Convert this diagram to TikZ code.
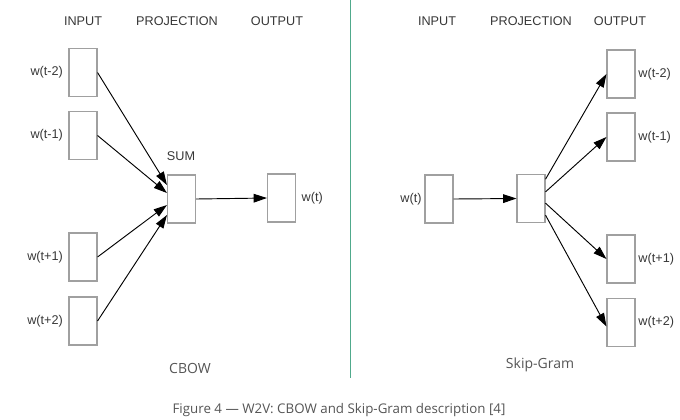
\documentclass[tikz,border=0pt]{standalone}
\usepackage{fontspec}
\setmainfont{Liberation Sans}
\newfontfamily\titlefont{Open Sans}
\usepackage{tikz}
\usetikzlibrary{arrows.meta,positioning}
\definecolor{boxGray}{RGB}{160,160,160}
\definecolor{txtGray}{RGB}{55,55,55}
\definecolor{capGray}{RGB}{85,85,85}
\definecolor{divGreen}{RGB}{80,170,140}

\begin{document}
\begin{tikzpicture}[x=0.75pt,y=-0.75pt,
  wordbox/.style={draw=boxGray,line width=0.8pt,fill=white,
                  minimum width=21pt,minimum height=36pt,inner sep=0pt},
  head/.style={text=txtGray,font=\fontsize{9.5}{11}\selectfont,inner sep=0pt},
  wlabel/.style={text=txtGray,font=\fontsize{9.5}{11}\selectfont,inner sep=2pt},
  modelname/.style={text=capGray,font=\titlefont\fontsize{10.5}{12}\selectfont,inner sep=0pt},
  link/.style={-{Triangle[length=10pt,width=6.5pt]},line width=0.7pt,black},
]
\useasboundingbox (0,0) rectangle (680,419);

% CBOW
\node[head] (hinL) at (83,21) {INPUT};
\node[head] (hprL) at (177,21) {PROJECTION};
\node[head] (houL) at (277,21) {OUTPUT};

\node[wordbox] (cin1) at (83,72.5) {};
\node[wordbox] (cin2) at (83,135.5) {};
\node[wordbox] (cin3) at (83,257) {};
\node[wordbox] (cin4) at (83,321) {};
\node[wordbox] (csum) at (181.5,199) {};
\node[wordbox] (cout) at (281.5,198) {};

\node[wlabel,left=2pt of cin1] {w(t-2)};
\node[wlabel,left=2pt of cin2] {w(t-1)};
\node[wlabel,left=2pt of cin3] {w(t+1)};
\node[wlabel,left=2pt of cin4] {w(t+2)};
\node[head] (lsum) at (181,156) {SUM};
\node[wlabel,right=2pt of cout] {w(t)};

\draw[link] (cin1.east) -- ([yshift=10.5pt]csum.west);
\draw[link] (cin2.east) -- ([yshift=4.5pt]csum.west);
\draw[link] (cin3.east) -- ([yshift=-4.5pt]csum.west);
\draw[link] (cin4.east) -- ([yshift=-12pt]csum.west);
\draw[link] (csum.east) -- (cout.west);

\node[modelname] (cbow) at (190,368) {CBOW};

% divider
\draw[divGreen,line width=1pt] (350.5,0) -- (350.5,378);

% Skip-Gram
\node[head] (hinR) at (437,21) {INPUT};
\node[head] (hprR) at (531,21) {PROJECTION};
\node[head] (houR) at (620,21) {OUTPUT};

\node[wordbox] (sin) at (439,199) {};
\node[wordbox] (sproj) at (531,198.5) {};
\node[wordbox] (sout1) at (621,74) {};
\node[wordbox] (sout2) at (621,137) {};
\node[wordbox] (sout3) at (621,259) {};
\node[wordbox] (sout4) at (621,322.5) {};

\node[wlabel,left=0pt of sin] {w(t)};
\node[wlabel,right=0pt of sout1] {w(t-2)};
\node[wlabel,right=0pt of sout2] {w(t-1)};
\node[wlabel,right=0pt of sout3] {w(t+1)};
\node[wlabel,right=0pt of sout4] {w(t+2)};

\draw[link] (sin.east) -- (sproj.west);
\draw[link] ([yshift=14.5pt]sproj.east) -- (sout1.west);
\draw[link] ([yshift=5pt]sproj.east) -- (sout2.west);
\draw[link] ([yshift=-3.5pt]sproj.east) -- (sout3.west);
\draw[link] ([yshift=-12.5pt]sproj.east) -- ([yshift=-3pt]sout4.west);

\node[modelname] (skip) at (540,365) {Skip-Gram};

% caption
\node[text=capGray,font=\titlefont\fontsize{10}{12}\selectfont,inner sep=0pt] (caption) at (339,410)
  {Figure 4 — W2V: CBOW and Skip-Gram description [4]};
\end{tikzpicture}
\end{document}
